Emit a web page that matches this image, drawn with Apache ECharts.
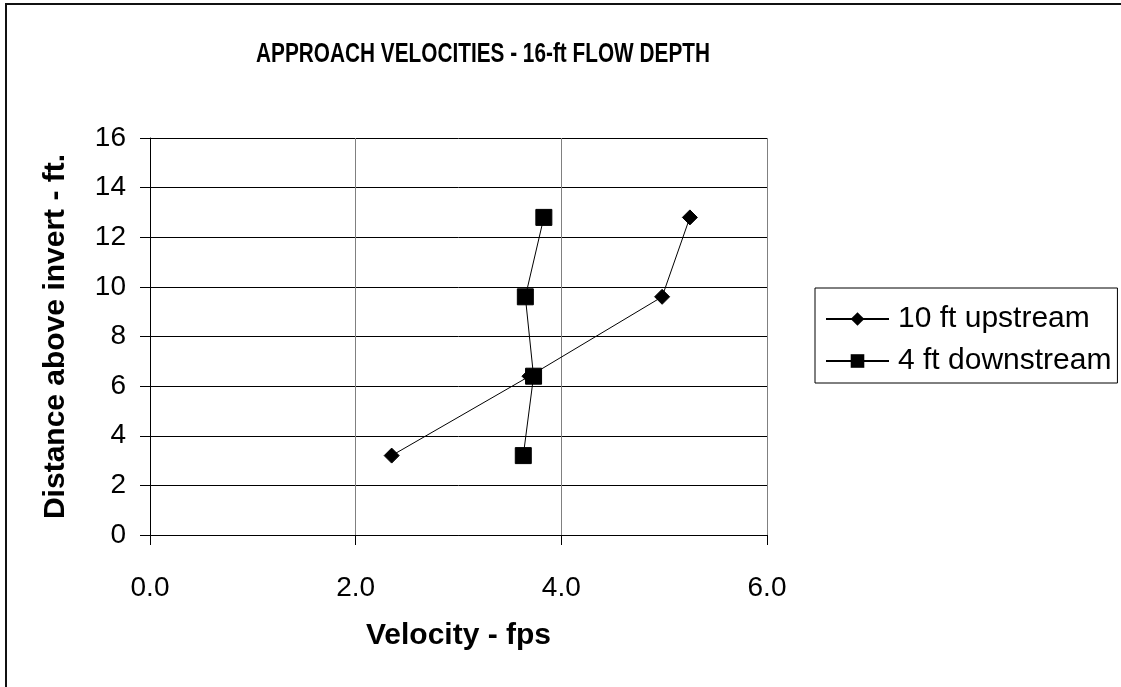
<!DOCTYPE html>
<html>
<head>
<meta charset="utf-8">
<script src="https://cdn.jsdelivr.net/npm/echarts@6/dist/echarts.min.js"></script>
<style>
html,body{margin:0;padding:0;background:#fff;}
#chart{width:1121px;height:687px;}
</style>
</head>
<body>
<div id="chart"></div>
<script>
const titleText = 'APPROACH VELOCITIES - 16-ft FLOW DEPTH';
const xName = 'Velocity - fps';
const yName = 'Distance above invert - ft.';
const seriesNames = ['10 ft upstream', '4 ft downstream'];
const depths = [3.2, 6.4, 9.6, 12.8];
const upstream = [2.35, 3.69, 4.98, 5.25];
const downstream = [3.63, 3.73, 3.65, 3.83];

const FONT = '"Liberation Sans", Arial, Helvetica, sans-serif';
const chart = echarts.init(document.getElementById('chart'), null, {renderer: 'canvas'});

function pairs(xs) { return depths.map((d, i) => [xs[i], d]); }

const option = {
  animation: false,
  backgroundColor: '#fff',
  graphic: [
    {type: 'rect', shape: {x: 6, y: 4, width: 1300, height: 900},
     style: {fill: 'none', stroke: '#111', lineWidth: 2}, silent: true},
    {type: 'text', x: 483, y: 55, scaleX: 0.77, scaleY: 1,
     style: {text: titleText, font: 'bold 27px ' + FONT, fill: '#000',
             textAlign: 'center', textVerticalAlign: 'middle'}}
  ],
  grid: {left: 150, right: 354, top: 138, bottom: 152, containLabel: false},
  legend: {
    orient: 'vertical', left: 815, top: 288,
    padding: [14, 6, 5, 10],
    backgroundColor: '#fff',
    borderColor: '#000', borderWidth: 1, borderRadius: 0,
    itemWidth: 63, itemHeight: 17, itemGap: 8,
    textStyle: {fontFamily: FONT, fontSize: 30, color: '#000', lineHeight: 34, padding: [0, 0, 0, 4]},
    data: seriesNames
  },
  xAxis: {
    type: 'value', min: 0, max: 6, interval: 2,
    name: xName, nameLocation: 'middle', nameGap: 86,
    nameTextStyle: {fontFamily: FONT, fontSize: 30, fontWeight: 'bold', color: '#000'},
    axisLine: {show: true, lineStyle: {color: '#000', width: 1}},
    axisTick: {show: true, length: 10, lineStyle: {color: '#000'}},
    axisLabel: {fontFamily: FONT, fontSize: 28, color: '#000', margin: 39,
                formatter: v => v.toFixed(1)},
    splitLine: {show: true, lineStyle: {color: '#808080', width: 1}}
  },
  yAxis: {
    type: 'value', min: 0, max: 16, interval: 2,
    name: yName, nameLocation: 'middle', nameGap: 79, nameRotate: 90,
    nameTextStyle: {fontFamily: FONT, fontSize: 30, fontWeight: 'bold', color: '#000'},
    axisLine: {show: true, lineStyle: {color: '#000', width: 1}},
    axisTick: {show: true, length: 10, lineStyle: {color: '#000'}},
    axisLabel: {fontFamily: FONT, fontSize: 28, color: '#000', margin: 24},
    splitLine: {show: true, lineStyle: {color: '#000', width: 1}}
  },
  series: [
    {
      name: seriesNames[0], type: 'line', data: pairs(upstream),
      symbol: 'diamond', symbolSize: 15, showAllSymbol: true,
      lineStyle: {color: '#000', width: 1},
      itemStyle: {color: '#000', borderColor: '#000'}
    },
    {
      name: seriesNames[1], type: 'line', data: pairs(downstream),
      symbol: 'rect', symbolSize: 16, showAllSymbol: true,
      lineStyle: {color: '#000', width: 1},
      itemStyle: {color: '#000', borderColor: '#000'}
    }
  ]
};
chart.setOption(option);
</script>
</body>
</html>
